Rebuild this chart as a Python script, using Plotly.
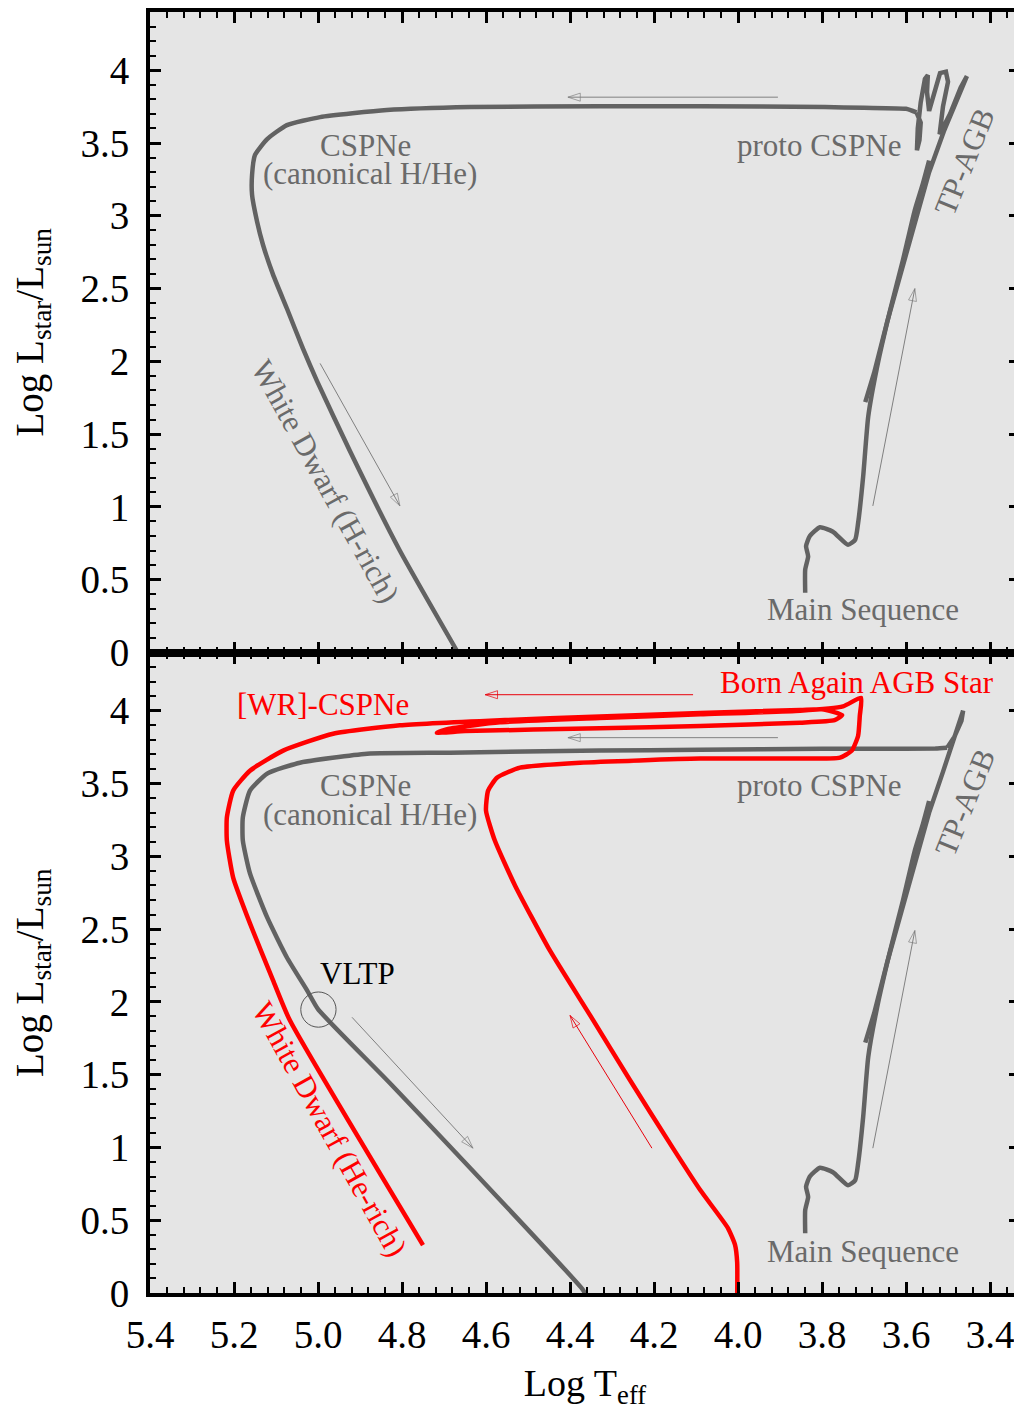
import plotly.graph_objects as go
from plotly.subplots import make_subplots

# ---------------- data ----------------
# Main sequence + red giant branch (both panels)
ms_rgb_x = [3.840, 3.840, 3.833, 3.838, 3.829, 3.805, 3.774, 3.738, 3.721, 3.714, 3.702,
            3.690, 3.669, 3.638, 3.607, 3.579, 3.560, 3.545]
ms_rgb_y = [0.41, 0.57, 0.66, 0.73, 0.80, 0.86, 0.83, 0.74, 0.775, 0.89, 1.21,
            1.62, 1.96, 2.35, 2.70, 3.04, 3.22, 3.38]

# Top panel: AGB + thermally pulsing AGB band
top_agb_x = [3.697, 3.676, 3.645, 3.610, 3.576, 3.545, 3.510, 3.482, 3.460, 3.455, 3.470,
             3.495, 3.520, 3.512, 3.500, 3.505, 3.519, 3.532, 3.545, 3.550, 3.548, 3.555,
             3.565, 3.572, 3.574, 3.568, 3.565, 3.575]
top_agb_y = [1.72, 1.92, 2.27, 2.64, 3.00, 3.30, 3.58, 3.78, 3.92, 3.96, 3.88,
             3.70, 3.56, 3.75, 3.92, 3.99, 3.98, 3.86, 3.72, 3.85, 3.966, 3.94,
             3.78, 3.60, 3.45, 3.52, 3.64, 3.71]
# Top panel: post-AGB (CSPN) + H-rich white dwarf
top_post_x = [3.575, 3.600, 3.700, 3.793, 4.090, 4.329, 4.638, 4.836, 4.995, 5.074, 5.121,
              5.150, 5.157, 5.157, 5.145, 5.131, 5.107, 5.074, 5.036, 5.002, 4.924, 4.805, 4.667]
top_post_y = [3.71, 3.735, 3.742, 3.747, 3.753, 3.753, 3.747, 3.726, 3.678, 3.623, 3.527,
              3.418, 3.281, 3.144, 2.959, 2.801, 2.596, 2.363, 2.089, 1.863, 1.384, 0.699, 0.0]

# Bottom panel: AGB + TP-AGB
bot_agb_x = [3.697, 3.676, 3.645, 3.610, 3.576, 3.545, 3.512, 3.485, 3.464, 3.468, 3.485, 3.502]
bot_agb_y = [1.72, 1.92, 2.27, 2.64, 3.00, 3.30, 3.58, 3.82, 4.00, 3.93, 3.82, 3.745]
# Bottom panel: canonical post-AGB track with the VLTP point
bot_post_x = [3.502, 3.530, 3.674, 3.800, 4.090, 4.329, 4.686, 4.883, 5.043, 5.121, 5.162,
              5.179, 5.179, 5.162, 5.121, 5.074, 5.026, 5.000, 4.824, 4.369, 4.362]
bot_post_y = [3.745, 3.740, 3.739, 3.738, 3.732, 3.726, 3.712, 3.705, 3.643, 3.568, 3.451,
              3.266, 3.108, 2.882, 2.580, 2.305, 2.079, 1.950, 1.427, 0.021, -0.02]

# Bottom panel: born-again (VLTP) track, red
red_x = [4.002, 4.002, 4.007, 4.024, 4.090, 4.155, 4.257, 4.352, 4.448, 4.531, 4.579,
         4.600, 4.595, 4.574, 4.519, 4.376, 4.090, 3.852, 3.757, 3.729, 3.714, 3.710,
         3.707, 3.750, 3.852, 4.090, 4.329, 4.567, 4.690, 4.717, 4.650, 4.329, 4.090,
         3.852, 3.770, 3.752, 3.800, 3.852, 4.090, 4.329, 4.567, 4.805, 4.964, 5.083,
         5.162, 5.202, 5.217, 5.217, 5.202, 5.162, 5.107, 5.067, 4.750]
red_y = [-0.05, 0.21, 0.33, 0.446, 0.707, 0.995, 1.461, 1.907, 2.353, 2.80, 3.108,
         3.314, 3.451, 3.540, 3.609, 3.643, 3.671, 3.671, 3.678, 3.726, 3.828, 3.966,
         4.089, 4.030, 4.000, 3.975, 3.950, 3.920, 3.875, 3.849, 3.860, 3.880, 3.895,
         3.918, 3.935, 3.970, 4.010, 4.005, 3.985, 3.960, 3.935, 3.900, 3.842, 3.726,
         3.588, 3.451, 3.266, 3.108, 2.854, 2.539, 2.148, 1.873, 0.329]

# Arrows: (row, tail_x, tail_y, head_x, head_y, colour)
arrow_row = [1, 1, 1, 2, 2, 2, 2, 2]
arrow_tail_x = [3.905, 4.995, 3.679, 4.107, 3.905, 4.919, 4.205, 3.679]
arrow_tail_y = [3.815, 1.986, 1.007, 4.110, 3.815, 1.894, 0.995, 0.995]
arrow_head_x = [4.405, 4.805, 3.579, 4.602, 4.405, 4.631, 4.400, 3.579]
arrow_head_y = [3.815, 1.007, 2.500, 4.110, 3.815, 0.995, 1.907, 2.490]
arrow_color = ["#808080", "#808080", "#808080", "#e8000b", "#808080", "#808080", "#e8000b", "#808080"]

# Labels: (row, text, x, y, colour, angle)
label_row = [1, 1, 1, 1, 1, 1,
             2, 2, 2, 2, 2, 2, 2, 2, 2]
label_text = ["CSPNe", "(canonical H/He)", "proto CSPNe", "TP-AGB", "White Dwarf (H-rich)", "Main Sequence",
              "Born Again AGB Star", "[WR]-CSPNe", "CSPNe", "(canonical H/He)", "proto CSPNe", "TP-AGB",
              "VLTP", "White Dwarf (He-rich)", "Main Sequence"]
label_x = [4.888, 4.876, 3.805, 3.460, 4.981, 3.702,
           3.717, 4.988, 4.888, 4.876, 3.805, 3.460, 4.905, 4.971, 3.702]
label_y = [3.486, 3.288, 3.486, 3.370, 1.178, 0.295,
           4.192, 4.041, 3.485, 3.286, 3.485, 3.370, 2.196, 1.125, 0.288]
label_color = ["#6a6a6a"] * 6 + ["#ff0000", "#ff0000", "#6a6a6a", "#6a6a6a", "#6a6a6a", "#6a6a6a",
                                 "#000000", "#ff0000", "#6a6a6a"]
label_angle = [0, 0, 0, -68, 61, 0,
               0, 0, 0, 0, 0, -68, 0, 61, 0]

# VLTP circle (centre and half-extent in data units)
vltp_cx, vltp_cy = 4.999, 1.947
vltp_rx, vltp_ry = 0.042, 0.121

# Axis ranges
x_range = [5.4, 3.3286]
y_range = [0, 4.4]

# ---------------- figure ----------------
GRAY = "#626262"
RED = "#ff0000"
FONT = "Liberation Serif"

fig = make_subplots(rows=2, cols=1, vertical_spacing=0)


def track(x, y, color, row, smooth=True):
    line = dict(color=color, width=4.5)
    if smooth:
        line.update(shape="spline", smoothing=0.5)
    fig.add_trace(go.Scatter(x=x, y=y, mode="lines", line=line, hoverinfo="skip"), row=row, col=1)


for row in (1, 2):
    track(ms_rgb_x, ms_rgb_y, GRAY, row)

track(top_agb_x, top_agb_y, GRAY, 1, smooth=False)
track(top_post_x, top_post_y, GRAY, 1)
track(bot_agb_x, bot_agb_y, GRAY, 2, smooth=False)
track(bot_post_x, bot_post_y, GRAY, 2)
track(red_x, red_y, RED, 2)

# arrows
for r, tx, ty, hx, hy, c in zip(arrow_row, arrow_tail_x, arrow_tail_y,
                                arrow_head_x, arrow_head_y, arrow_color):
    fig.add_trace(go.Scatter(
        x=[tx, hx], y=[ty, hy], mode="lines+markers",
        line=dict(color=c, width=1),
        marker=dict(symbol=["circle", "arrow-open"], size=[0, 13], angleref="previous",
                    color=c, line=dict(color=c, width=1)),
        hoverinfo="skip"), row=r, col=1)

# labels
for r, t, x, y, c, a in zip(label_row, label_text, label_x, label_y, label_color, label_angle):
    fig.add_annotation(x=x, y=y, text=t, showarrow=False, textangle=a,
                       xref="x" if r == 1 else "x2", yref="y" if r == 1 else "y2",
                       font=dict(family=FONT, size=31, color=c))

# VLTP circle
fig.add_shape(type="circle", xref="x2", yref="y2",
              x0=vltp_cx - vltp_rx, x1=vltp_cx + vltp_rx,
              y0=vltp_cy - vltp_ry, y1=vltp_cy + vltp_ry,
              line=dict(color="#555555", width=1))

axis_common = dict(showgrid=False, zeroline=False, showline=True, linewidth=4, linecolor="black",
                   mirror="allticks", ticks="inside", ticklen=11, tickwidth=3, tickcolor="black",
                   tickfont=dict(family=FONT, size=39, color="black"))

xcommon = dict(axis_common, range=x_range, autorange=False, tickmode="linear", tick0=3.4, dtick=0.2,
               tickformat=".1f",
               minor=dict(ticks="inside", ticklen=6, tickwidth=2, dtick=0.04, tick0=3.4,
                          tickcolor="black", showgrid=False))
ycommon = dict(axis_common, range=y_range, autorange=False, tickmode="linear", tick0=0, dtick=0.5,
               ticklabelstandoff=9,
               minor=dict(ticks="inside", ticklen=6, tickwidth=2, dtick=0.1, tick0=0,
                          tickcolor="black", showgrid=False),
               title=dict(text="Log L<sub>star</sub>/L<sub>sun</sub>",
                          font=dict(family=FONT, size=39, color="black"), standoff=30))

fig.update_xaxes(**xcommon)
fig.update_xaxes(showticklabels=False, row=1, col=1)
fig.update_xaxes(ticklabelstandoff=4,
                 title=dict(text="Log T<sub>eff</sub>", font=dict(family=FONT, size=38, color="black"),
                            standoff=16), row=2, col=1)
fig.update_yaxes(**ycommon)

# the page body adds an 8px offset; margins compensate so the plot area sits where the reference has it
fig.update_layout(width=1022, height=1406, showlegend=False,
                  margin=dict(l=142, r=10, t=0, b=121),
                  paper_bgcolor="white", plot_bgcolor="#e5e5e5",
                  font=dict(family=FONT))

fig.write_html("out.html")
